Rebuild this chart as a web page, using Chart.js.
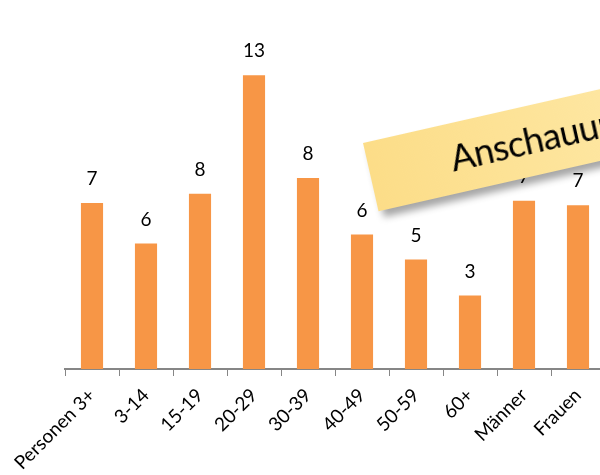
<!DOCTYPE html>
<html>
<head>
<meta charset="utf-8">
<script src="https://cdn.jsdelivr.net/npm/chart.js@4.4.0/dist/chart.umd.min.js"></script>
<style>
    html, body { margin: 0; padding: 0; background: #fff; overflow: hidden; }
    #wrap { position: relative; width: 600px; height: 475px; overflow: hidden; }
    #cont { position: absolute; left: 0; top: 0; width: 620px; height: 475px; }
    #notiz {
        position: absolute; left: 363px; top: 143px; width: 320px; height: 70px;
        transform-origin: 0 0; transform: rotate(-12.8deg);
        background: linear-gradient(to right, #fcdd88, #fee9a8);
        box-shadow: 4px 7px 7px rgba(0,0,0,0.35);
        font-family: Lato, "Open Sans", sans-serif; font-size: 36px; letter-spacing: -0.6px; color: #000;
    }
    #notiz span { position: absolute; left: 82px; top: 12px; white-space: nowrap; }
</style>
</head>
<body>
<div id="wrap">
    <div id="cont"><canvas id="GraficoReichweite" width="620" height="475"></canvas></div>
    <div id="notiz"><span>Anschauungsbeispiel</span></div>
</div>
<script>
// Kategorien und Werte
var kategorien = ["Personen 3+", "3-14", "15-19", "20-29", "30-39", "40-49", "50-59", "60+", "Männer", "Frauen"];
var werte = [7.35, 5.55, 7.75, 13.0, 8.45, 5.95, 4.85, 3.25, 7.45, 7.25];

// Werte gerundet über den Balken
var wertLabels = {
    id: 'wertLabels',
    afterDatasetsDraw: function (chart) {
        var ctx = chart.ctx;
        var meta = chart.getDatasetMeta(0);
        ctx.save();
        ctx.font = "19px Lato";
        ctx.fillStyle = "#000";
        ctx.textAlign = "center";
        ctx.textBaseline = "middle";
        meta.data.forEach(function (bar, i) {
            ctx.fillText(Math.round(werte[i]), bar.x, bar.y - 24);
        });
        ctx.restore();
    }
};

new Chart(document.getElementById("GraficoReichweite"), {
    type: 'bar',
    data: {
        labels: kategorien,
        datasets: [{
            data: werte,
            backgroundColor: "#f79646",
            barPercentage: 0.41,
            categoryPercentage: 1
        }]
    },
    options: {
        responsive: false,
        animation: false,
        layout: { padding: { left: 65, right: 15, top: 30, bottom: 0 } },
        plugins: {
            legend: { display: false },
            tooltip: { enabled: false }
        },
        scales: {
            x: {
                afterFit: function (scale) {
                    scale.paddingLeft = 0;
                    scale.paddingRight = 0;
                    scale.height = 106;
                },
                grid: {
                    display: true,
                    drawOnChartArea: false,
                    drawTicks: true,
                    tickLength: 7,
                    color: "#868686",
                    offset: true
                },
                border: { color: "#868686", width: 2 },
                ticks: {
                    color: "#000",
                    font: { family: "Lato", size: 19 },
                    minRotation: 45,
                    maxRotation: 45,
                    padding: 8
                }
            },
            y: {
                display: false,
                min: 0,
                max: 15
            }
        }
    },
    plugins: [wertLabels]
});
</script>
</body>
</html>
